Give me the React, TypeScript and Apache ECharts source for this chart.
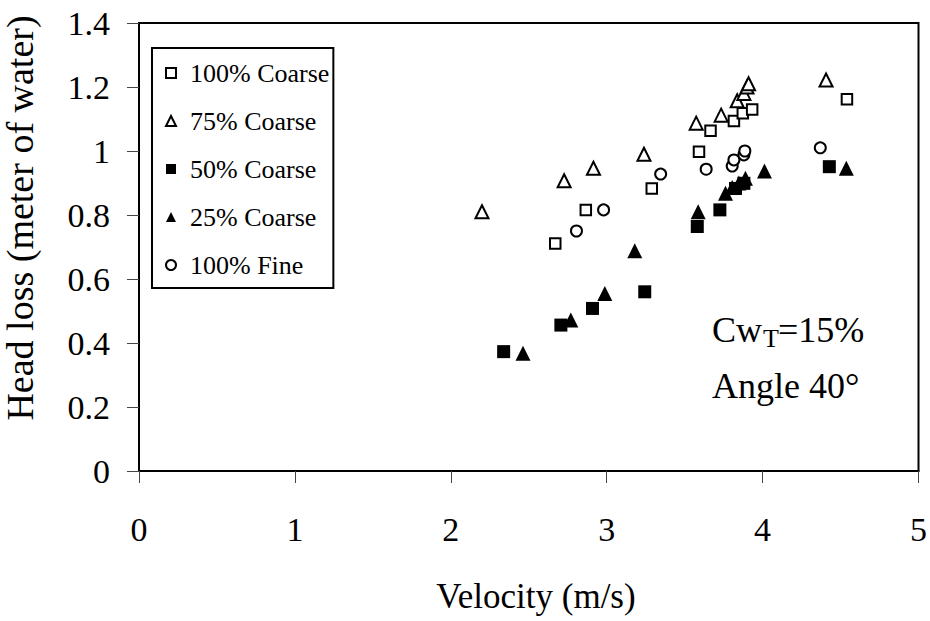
import React, { useEffect, useRef } from "react";
import * as echarts from "echarts";

const seriesNames = ["100% Coarse", "75% Coarse", "50% Coarse", "25% Coarse", "100% Fine"];

const coarse100: [number, number][] = [
  [2.67, 0.711], [2.866, 0.816], [3.289, 0.883], [3.592, 0.998], [3.666, 1.063],
  [3.816, 1.094], [3.873, 1.118], [3.933, 1.13], [4.541, 1.162],
];
const coarse75: [number, number][] = [
  [2.2, 0.81], [2.727, 0.907], [2.915, 0.946], [3.239, 0.99], [3.574, 1.087],
  [3.734, 1.112], [3.837, 1.157], [3.88, 1.18], [3.9, 1.2], [3.91, 1.21], [4.407, 1.222],
];
const coarse50: [number, number][] = [
  [2.339, 0.373], [2.706, 0.456], [2.909, 0.508], [3.244, 0.56], [3.581, 0.764],
  [3.726, 0.816], [3.826, 0.883], [3.88, 0.899], [4.428, 0.951],
];
const coarse25: [number, number][] = [
  [2.463, 0.368], [2.77, 0.472], [2.988, 0.555], [3.18, 0.688], [3.587, 0.81],
  [3.762, 0.868], [3.805, 0.886], [3.848, 0.9], [3.89, 0.915], [4.012, 0.9375], [4.537, 0.946],
];
const fine100: [number, number][] = [
  [2.806, 0.75], [2.98, 0.816], [3.346, 0.928], [3.638, 0.943], [3.805, 0.953],
  [3.816, 0.972], [3.88, 0.988], [3.886, 1.0], [4.37, 1.01],
];

const xTicks = { min: 0, max: 5, interval: 1 };
const yTicks = { min: 0, max: 1.4, interval: 0.2 };

const FONT = "Liberation Serif";

export default function App() {
  const ref = useRef<HTMLDivElement>(null);
  useEffect(() => {
    if (!ref.current) return;
    const chart = echarts.init(ref.current, undefined, { renderer: "svg" });
    const hollow = { color: "#ffffff", borderColor: "#000000", borderWidth: 2, opacity: 1 };
    const filled = { color: "#000000", borderColor: "#000000", borderWidth: 0, opacity: 1 };
    chart.setOption({
      animation: false,
      backgroundColor: "#ffffff",
      textStyle: { fontFamily: FONT, color: "#000" },
      grid: {
        left: 139, right: 10, top: 23, bottom: 150,
        show: true, borderColor: "#000", borderWidth: 2, backgroundColor: "transparent",
      },
      legend: {
        orient: "vertical",
        left: 152, top: 48,
        padding: [12, 4, 10, 13],
        borderColor: "#000", borderWidth: 2,
        backgroundColor: "#fff",
        itemWidth: 10, itemHeight: 10, itemGap: 22,
        itemStyle: { opacity: 1 },
        textStyle: { fontFamily: FONT, fontSize: 26, color: "#000", lineHeight: 26, padding: [0, 0, 0, 9] },
        data: seriesNames,
      },
      xAxis: {
        type: "value",
        min: xTicks.min, max: xTicks.max, interval: xTicks.interval,
        axisLine: { show: true, onZero: false, lineStyle: { color: "#000", width: 2 } },
        axisTick: { show: true, inside: false, length: 12, lineStyle: { color: "#444", width: 1 } },
        axisLabel: { fontFamily: FONT, fontSize: 34, color: "#000", margin: 41 },
        splitLine: { show: false },
      },
      yAxis: {
        type: "value",
        min: yTicks.min, max: yTicks.max, interval: yTicks.interval,
        axisLine: { show: true, onZero: false, lineStyle: { color: "#000", width: 2 } },
        axisTick: { show: true, inside: false, length: 12, lineStyle: { color: "#444", width: 1 } },
        axisLabel: { fontFamily: FONT, fontSize: 34, color: "#000", margin: 29 },
        splitLine: { show: false },
      },
      graphic: [
        {
          type: "text", x: 20, y: 218, rotation: Math.PI / 2,
          style: { text: "Head loss (meter of water)", fontFamily: FONT, fontSize: 38, fill: "#000", align: "center", verticalAlign: "middle" },
        },
        {
          type: "text", x: 536, y: 596,
          style: { text: "Velocity (m/s)", fontFamily: FONT, fontSize: 35, fill: "#000", align: "center", verticalAlign: "middle" },
        },
        {
          type: "text", x: 712, y: 330,
          style: { text: "Cw", fontFamily: FONT, fontSize: 36, fill: "#000", align: "left", verticalAlign: "middle" },
        },
        {
          type: "text", x: 763, y: 338,
          style: { text: "T", fontFamily: FONT, fontSize: 26, fill: "#000", align: "left", verticalAlign: "middle" },
        },
        {
          type: "text", x: 778, y: 330,
          style: { text: "=15%", fontFamily: FONT, fontSize: 36, fill: "#000", align: "left", verticalAlign: "middle" },
        },
        {
          type: "text", x: 712, y: 386,
          style: { text: "Angle 40°", fontFamily: FONT, fontSize: 36, fill: "#000", align: "left", verticalAlign: "middle" },
        },
      ],
      series: [
        { name: seriesNames[0], type: "scatter", symbol: "rect", symbolSize: 10.5, itemStyle: hollow, data: coarse100 },
        { name: seriesNames[1], type: "scatter", symbol: "triangle", symbolSize: 13, itemStyle: hollow, data: coarse75 },
        { name: seriesNames[2], type: "scatter", symbol: "rect", symbolSize: 13, itemStyle: filled, data: coarse50 },
        { name: seriesNames[3], type: "scatter", symbol: "triangle", symbolSize: 15, itemStyle: filled, data: coarse25 },
        { name: seriesNames[4], type: "scatter", symbol: "circle", symbolSize: 11, itemStyle: hollow, data: fine100 },
      ],
    });
    return () => chart.dispose();
  }, []);
  return <div ref={ref} style={{ position: "fixed", left: 0, top: 0, width: 930, height: 621 }} />;
}
